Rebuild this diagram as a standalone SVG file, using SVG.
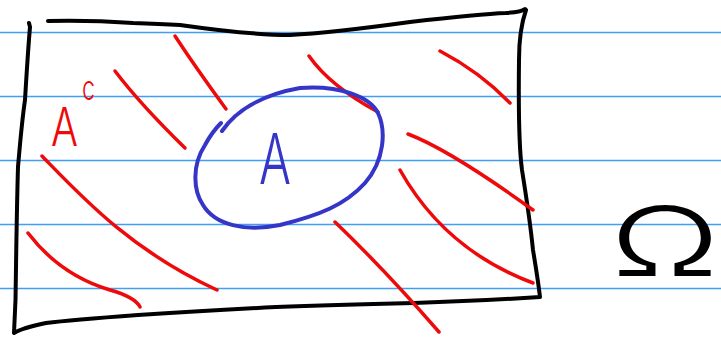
<svg xmlns="http://www.w3.org/2000/svg" width="721" height="337" viewBox="0 0 721 337">
<style>
.rule{stroke:#3d9ff5;stroke-width:1.3;fill:none}
.ink{fill:none;stroke-linecap:round;stroke-linejoin:round}
.blk{stroke:#000;stroke-width:4}
.red{stroke:#ee0a0a;stroke-width:3.5}
.blu{stroke:#3535c8;stroke-width:4}
.lbl{font-family:Inter,"Liberation Sans","DejaVu Sans",sans-serif;font-weight:300}
</style>
<rect width="721" height="337" fill="#fff"/>
<g id="ruled-lines">
<line class="rule" x1="0" y1="32.5" x2="721" y2="32.5"/>
<line class="rule" x1="0" y1="96.5" x2="721" y2="96.5"/>
<line class="rule" x1="0" y1="160.5" x2="721" y2="160.5"/>
<line class="rule" x1="0" y1="224.5" x2="721" y2="224.5"/>
<line class="rule" x1="0" y1="288.5" x2="721" y2="288.5"/>
</g>
<g id="omega-set">
<path class="ink blk" d="M48,21 Q90,20 133,23 Q160,24 180,25 Q250,35 290,35 Q330,33 410,22 Q480,14 506,13 Q522,12 525,9"/>
<path class="ink blk" d="M526,10 Q519,30 519,60 Q518,140 522,170 Q530,220 533,250 Q538,280 540,297 Q480,301 414,303 Q330,305 276,307 Q200,311 138,315 Q70,320 46,323 Q22,328 14,333 Q16,300 16,267 Q17,200 18,167 Q22,120 25,100 Q28,50 30,27 L29,23"/>
</g>
<g id="hatching">
<path class="ink red" d="M175,36 Q196,68 226,109"/>
<path class="ink red" d="M115,71 Q140,104 185,148"/>
<path class="ink red" d="M309,56 Q330,86 378,112"/>
<path class="ink red" d="M440,51 Q480,72 510,103"/>
<path class="ink red" d="M408,134 Q450,150 533,210"/>
<path class="ink red" d="M400,170 Q445,250 533,283"/>
<path class="ink red" d="M335,222 Q385,270 439,332"/>
<path class="ink red" d="M42,156 C80,195 130,250 217,290"/>
<path class="ink red" d="M28,233 Q60,275 110,290 Q135,297 140,307"/>
</g>
<g id="set-A">
<path class="ink blu" d="M222,131 C235,112 260,95 300,88 C340,85 370,97 378,113 C386,130 385,160 365,183 C345,205 320,215 280,225 C245,232 215,225 203,205 C193,190 192,165 205,145 Q212,132 221,123"/>
</g>
<g id="labels">
<text class="lbl" x="51" y="146" font-size="54" fill="#ee0a0a" textLength="27" lengthAdjust="spacingAndGlyphs">A</text>
<text class="lbl" x="82" y="100" font-size="34" fill="#ee0a0a" textLength="13" lengthAdjust="spacingAndGlyphs">c</text>
<text class="lbl" x="259" y="184" font-size="70" fill="#3535c8" textLength="32" lengthAdjust="spacingAndGlyphs">A</text>
<text class="lbl" x="610" y="276" font-size="96" fill="#000" textLength="110" lengthAdjust="spacingAndGlyphs">Ω</text>
</g>
</svg>
